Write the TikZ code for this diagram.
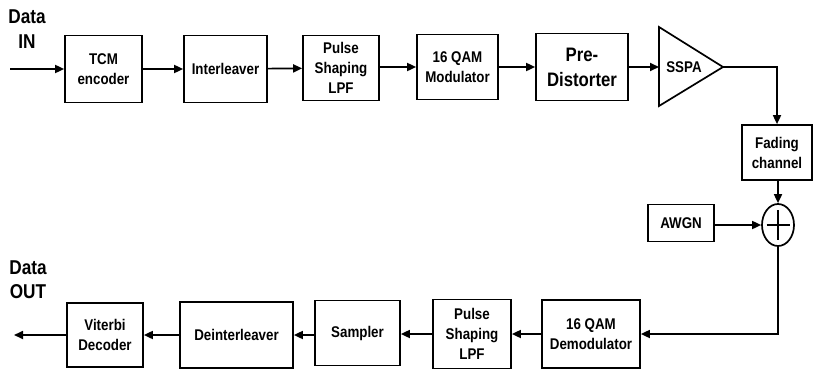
\documentclass[tikz,border=0pt]{standalone}
\usepackage{fontspec}
\newfontfamily\narrowfont{Liberation Sans}[FakeStretch=0.86]
\usetikzlibrary{arrows.meta,shapes.geometric}
\begin{document}
\begin{tikzpicture}[x=1pt,y=-1pt,
  blk/.style={draw,line width=1.7pt,rectangle,inner sep=0pt,align=center,
    font=\narrowfont\bfseries\fontsize{15.5}{20}\selectfont},
  lbl/.style={inner sep=0pt,font=\narrowfont\bfseries\fontsize{20}{24}\selectfont},
  conn/.style={line width=1.7pt,-{Triangle[length=9pt,width=8pt]}},
  wire/.style={line width=1.7pt}]
\useasboundingbox (0,0) rectangle (813,372);
% top row
\node[lbl] (din1) at (27,17) {Data};
\node[lbl] (din2) at (27,42) {IN};
\coordinate (in) at (10,69);
\node[blk,minimum width=77pt,minimum height=67pt] (tcm) at (103.5,69) {TCM\\encoder};
\node[blk,minimum width=83pt,minimum height=67pt] (intl) at (225.5,69) {Interleaver};
\node[blk,minimum width=76pt,minimum height=65pt] (pst) at (341,68) {Pulse\\Shaping\\LPF};
\node[blk,minimum width=81pt,minimum height=65pt] (mod) at (457.5,67) {16 QAM\\Modulator};
\node[blk,minimum width=92pt,minimum height=67pt,font=\narrowfont\bfseries\fontsize{19.5}{25}\selectfont] (pre) at (582,67) {Pre-\\Distorter};
\coordinate (sspaT) at (659,27);
\coordinate (sspaB) at (659,106);
\coordinate (sspaR) at (723,67);
\coordinate (sspaL) at (659,67);
\draw[wire,line join=miter] (sspaT) -- (sspaR) -- (sspaB) -- cycle;
\node[inner sep=0pt,font=\narrowfont\bfseries\fontsize{15.5}{18}\selectfont] (sspa) at (684,67) {SSPA};
\draw[conn] (in) -- (tcm.west);
\draw[conn] (tcm) -- (intl);
\draw[conn] (intl) -- (pst);
\draw[conn] (pst.east |- mod) -- (mod);
\draw[conn] (mod) -- (pre);
\draw[conn] (pre.east) -- (sspaL);
% channel
\node[blk,minimum width=70pt,minimum height=55pt] (fade) at (777,152.5) {Fading\\channel};
\draw[conn] (sspaR) -| (fade.north);
\node[draw,ellipse,line width=1.7pt,minimum width=32pt,minimum height=42pt,inner sep=0pt] (sum) at (778,225) {};
\draw[line width=1.7pt] (sum.center) ++(-11.5,0) -- ++(23,0);
\draw[line width=1.7pt] (sum.center) ++(0,-15) -- ++(0,30);
\draw[conn] (fade.south -| sum) -- (sum.north);
\node[blk,minimum width=66pt,minimum height=37pt] (awgn) at (681,223) {AWGN};
\draw[conn] (awgn.east |- sum) -- (sum.west);
% bottom row
\node[lbl] (dout1) at (28,268) {Data};
\node[lbl] (dout2) at (28,292) {OUT};
\coordinate (out) at (14,335);
\node[blk,minimum width=98pt,minimum height=68pt] (dem) at (591,334) {16 QAM\\Demodulator};
\node[blk,minimum width=78pt,minimum height=69pt] (psb) at (472,334) {Pulse\\Shaping\\LPF};
\node[blk,minimum width=85pt,minimum height=65pt] (smp) at (357.5,333) {Sampler};
\node[blk,minimum width=113pt,minimum height=66pt] (dei) at (236.5,335) {Deinterleaver};
\node[blk,minimum width=76pt,minimum height=64pt] (vit) at (105,335) {Viterbi\\Decoder};
\draw[conn] (sum.south) |- (dem.east);
\draw[conn] (dem) -- (psb);
\draw[conn] (psb.west) -- (smp.east |- psb);
\draw[conn] (smp.west |- dei) -- (dei);
\draw[conn] (dei) -- (vit);
\draw[conn] (vit.west) -- (out);
\end{tikzpicture}
\end{document}
